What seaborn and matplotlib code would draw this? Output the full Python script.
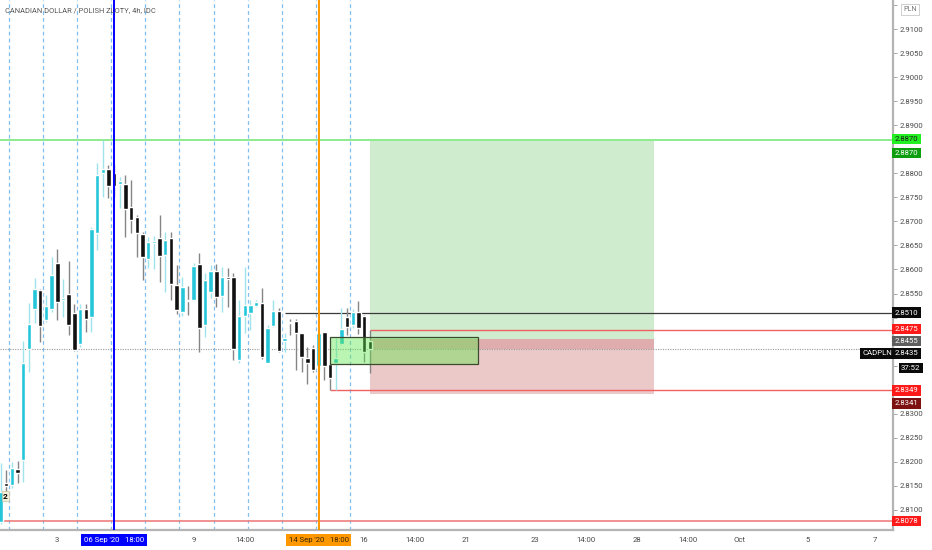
import matplotlib
matplotlib.use("Agg")
import matplotlib.pyplot as plt
from matplotlib.patches import Rectangle
import seaborn as sns
import pandas as pd
import numpy as np

# CADPLN 4h candles (left to right)
opens = [2.8075, 2.8156, 2.8152, 2.8185, 2.8204, 2.8435, 2.8518, 2.8557, 2.8495, 2.8518,
         2.8614, 2.8537, 2.8549, 2.8510, 2.8445, 2.8518, 2.8501, 2.8676, 2.8801, 2.8809,
         2.8801, 2.8778, 2.8778, 2.8730, 2.8709, 2.8674, 2.8622, 2.8655, 2.8666, 2.8630,
         2.8666, 2.8568, 2.8512, 2.8537, 2.8537, 2.8611, 2.8485, 2.8553, 2.8597, 2.8545,
         2.8584, 2.8584, 2.8412, 2.8503, 2.8510, 2.8524, 2.8530, 2.8406, 2.8483, 2.8514,
         2.8451, 2.8491, 2.8493, 2.8468, 2.8416, 2.8437, 2.8399, 2.8470, 2.8404, 2.8406,
         2.8445, 2.8501, 2.8485, 2.8512, 2.8503, 2.8451]
highs = [2.8198, 2.8183, 2.8200, 2.8202, 2.8451, 2.8530, 2.8582, 2.8559, 2.8547, 2.8626,
         2.8643, 2.8580, 2.8618, 2.8528, 2.8528, 2.8528, 2.8688, 2.8821, 2.8870, 2.8817,
         2.8817, 2.8792, 2.8796, 2.8786, 2.8713, 2.8678, 2.8668, 2.8670, 2.8713, 2.8678,
         2.8678, 2.8609, 2.8584, 2.8566, 2.8614, 2.8634, 2.8593, 2.8609, 2.8611, 2.8605,
         2.8603, 2.8593, 2.8537, 2.8605, 2.8537, 2.8537, 2.8562, 2.8485, 2.8537, 2.8520,
         2.8468, 2.8497, 2.8497, 2.8468, 2.8439, 2.8443, 2.8470, 2.8470, 2.8406, 2.8458,
         2.8520, 2.8520, 2.8518, 2.8535, 2.8505, 2.8474]
lows = [2.8071, 2.8135, 2.8146, 2.8156, 2.8158, 2.8387, 2.8489, 2.8449, 2.8491, 2.8512,
        2.8495, 2.8501, 2.8464, 2.8431, 2.8439, 2.8470, 2.8470, 2.8641, 2.8751, 2.8749,
        2.8751, 2.8728, 2.8668, 2.8676, 2.8626, 2.8578, 2.8603, 2.8601, 2.8574, 2.8553,
        2.8537, 2.8507, 2.8503, 2.8505, 2.8535, 2.8428, 2.8460, 2.8541, 2.8522, 2.8512,
        2.8522, 2.8412, 2.8406, 2.8468, 2.8474, 2.8522, 2.8414, 2.8405, 2.8480, 2.8429,
        2.8428, 2.8464, 2.8391, 2.8387, 2.8362, 2.8387, 2.8387, 2.8370, 2.8349, 2.8350,
        2.8443, 2.8464, 2.8478, 2.8466, 2.8408, 2.8385]
closes = [2.8137, 2.8150, 2.8187, 2.8177, 2.8406, 2.8487, 2.8559, 2.8483, 2.8524, 2.8589,
          2.8532, 2.8541, 2.8485, 2.8433, 2.8518, 2.8497, 2.8684, 2.8796, 2.8809, 2.8774,
          2.8774, 2.8784, 2.8726, 2.8703, 2.8676, 2.8626, 2.8657, 2.8659, 2.8628, 2.8661,
          2.8570, 2.8516, 2.8564, 2.8535, 2.8607, 2.8478, 2.8578, 2.8597, 2.8543, 2.8584,
          2.8580, 2.8435, 2.8503, 2.8526, 2.8526, 2.8532, 2.8418, 2.8478, 2.8514, 2.8431,
          2.8458, 2.8489, 2.8468, 2.8418, 2.8406, 2.8391, 2.8468, 2.8399, 2.8374, 2.8416,
          2.8476, 2.8480, 2.8512, 2.8478, 2.8428, 2.8435]

# drawn levels
last_price = 2.8435
entry = 2.8455
target = 2.8870
stop = 2.8341
level_high = 2.8870
level_low = 2.8078
level_resist = 2.8510
level_red_top = 2.8475
level_red_low = 2.8349
box_top = 2.8460
box_bottom = 2.8404

# time axis (bar index -> label)
tick_bars = [10, 34, 43, 64, 73, 82, 94, 103, 112, 121, 130, 142, 154]
tick_labels = ["3", "9", "14:00", "16", "14:00", "21", "23", "14:00", "28", "14:00", "Oct", "5", "7"]
price_ticks = [2.8100, 2.8150, 2.8200, 2.8250, 2.8300, 2.8350, 2.8400, 2.8450, 2.8500,
               2.8550, 2.8600, 2.8650, 2.8700, 2.8750, 2.8800, 2.8850, 2.8900, 2.8950,
               2.9000, 2.9050, 2.9100, 2.9150]
# these tick labels sit under the price tags in the original
hidden_ticks = [2.8350, 2.8400, 2.8450, 2.8500, 2.8850, 2.9150]
session_bars = [1.5, 7.5, 13.5, 19.5, 25.5, 31.5, 37.5, 43.5, 49.5, 55.5, 61.5]

df = pd.DataFrame({"open": opens, "high": highs, "low": lows, "close": closes})
df["bar"] = np.arange(len(df))
df["up"] = df["close"] >= df["open"]
df["body_lo"] = df[["open", "close"]].min(axis=1)
df["body_h"] = (df["close"] - df["open"]).abs().clip(lower=0.0002)

sns.set_style("white")
plt.rcParams["font.family"] = ["Roboto", "DejaVu Sans"]

BULL = "#26c6da"
BULL_WICK = "#9fe3ec"
BEAR = "#111111"
BEAR_WICK = "#858585"
TXT = "#4a4a4a"
FS = 5.6

fig = plt.figure(figsize=(9.32, 5.5), dpi=100)
ax = fig.add_axes([0, 20 / 550, 893 / 932, 530 / 550])
ax.set_xlim(-0.09, 157.1)
ax.set_ylim(2.80584, 2.91603)

# session separators and event lines
ax.vlines(session_bars, 0, 1, transform=ax.get_xaxis_transform(), colors="#80bff0",
          linestyles=(0, (3, 2.5)), linewidth=0.9, zorder=1)
ax.axvline(20, color="#0000ff", lw=1.4, zorder=6)
ax.axvline(56, color="#ff9800", lw=1.4, zorder=6)

# long position tool
ax.add_patch(Rectangle((65, entry), 50, target - entry, facecolor="#cfeccf", edgecolor="none", zorder=1.5))
ax.add_patch(Rectangle((65, stop), 50, entry - stop, facecolor="#ecc9c9", edgecolor="none", zorder=1.5))
ax.add_patch(Rectangle((65, last_price), 50, entry - last_price, facecolor="#dfadad", edgecolor="none", zorder=1.6))

# horizontal levels
ax.axhline(level_high, color="#8eec8e", lw=1.4, zorder=2)
ax.axhline(level_low, color="#f07f7f", lw=1.2, zorder=2)
ax.axhline(last_price, color="#9a9a9a", lw=0.8, ls=(0, (1, 1.2)), zorder=2)
ax.hlines(level_resist, 50, 157.1, color="#3a3a3a", lw=0.9, zorder=2)
ax.hlines(level_red_top, 65, 157.1, color="#f06262", lw=1.0, zorder=2)
ax.hlines(level_red_low, 58, 157.1, color="#f06262", lw=1.0, zorder=2)

# candles
up = df[df["up"]]
dn = df[~df["up"]]
ax.vlines(up["bar"], up["low"], up["high"], colors=BULL_WICK, lw=1.0, zorder=3)
ax.vlines(dn["bar"], dn["low"], dn["high"], colors=BEAR_WICK, lw=1.0, zorder=3)
ax.bar(up["bar"], up["body_h"], bottom=up["body_lo"], width=0.78, color=BULL, zorder=4)
ax.bar(dn["bar"], dn["body_h"], bottom=dn["body_lo"], width=0.78, color=BEAR, zorder=4)

# highlight box over the last candles
ax.add_patch(Rectangle((58, box_bottom), 26, box_top - box_bottom, facecolor="#5fe84a",
                       alpha=0.42, edgecolor="none", zorder=5))
ax.add_patch(Rectangle((58, box_bottom), 26, box_top - box_bottom, facecolor="none",
                       edgecolor="#3c4a30", lw=0.9, zorder=5))

ax.text(0.9, 2.8129, "2", fontsize=6, fontweight="bold", color="black", ha="center", va="center",
        bbox=dict(boxstyle="square,pad=0.15", fc="#f4efd8", ec="#c8c0a0", lw=0.5), zorder=7)

# axes styling
sns.despine(ax=ax, left=True, top=True, right=False, bottom=False)
for s in ("right", "bottom"):
    ax.spines[s].set_color("#b4b4b4")
    ax.spines[s].set_linewidth(1.6)
ax.yaxis.tick_right()
ax.set_yticks(price_ticks)
ax.set_yticklabels(["" if p in hidden_ticks else f"{p:.4f}" for p in price_ticks])
ax.set_xticks(tick_bars)
ax.set_xticklabels(tick_labels)
ax.tick_params(axis="y", length=3, width=0.6, color="#9a9a9a", labelsize=FS, labelcolor=TXT, pad=2)
ax.tick_params(axis="x", length=2, width=0.6, color="#9a9a9a", labelsize=FS, labelcolor=TXT, pad=3)
ax.grid(False)

# price axis labels
ytr = ax.get_yaxis_transform()
price_tags = [
    (2.8871, "2.8870", "#22f022", "#1a1a1a"),
    (2.8842, "2.8870", "#0d9e0d", "white"),
    (2.8510, "2.8510", "#0a0a0a", "white"),
    (2.8476, "2.8475", "#ff1a1a", "white"),
    (2.8451, "2.8455", "#5e5e5e", "white"),
    (2.8426, "2.8435", "#0a0a0a", "white"),
    (2.8349, "2.8349", "#ff1a1a", "white"),
    (2.8322, "2.8341", "#7d1111", "white"),
    (2.8077, "2.8078", "#ff1a1a", "white"),
]
for yv, s, fc, tc in price_tags:
    ax.text(1.002, yv, s, transform=ytr, fontsize=FS, color=tc, ha="left", va="center", zorder=8,
            clip_on=False, bbox=dict(boxstyle="square,pad=0.3", fc=fc, ec="none"))
ax.text(0.999, 2.8426, "CADPLN", transform=ytr, fontsize=FS, color="white", ha="right", va="center",
        zorder=8, clip_on=False, bbox=dict(boxstyle="square,pad=0.3", fc="#0a0a0a", ec="none"))
ax.text(1.009, 2.8395, "37:52", transform=ytr, fontsize=FS, color="white", ha="left", va="center",
        zorder=8, clip_on=False, bbox=dict(boxstyle="square,pad=0.3", fc="#0a0a0a", ec="none"))
fig.text(910 / 932, 1 - 9.5 / 550, "PLN", fontsize=5.2, color="#777777", ha="center", va="center",
         bbox=dict(boxstyle="square,pad=0.25", fc="white", ec="#c8c8c8", lw=0.6))

# time axis event labels
xtr = ax.get_xaxis_transform()
ax.text(20, -0.019, "06 Sep '20   18:00", transform=xtr, fontsize=FS, color="white", ha="center",
        va="center", clip_on=False, zorder=8, bbox=dict(boxstyle="square,pad=0.35", fc="#0000ff", ec="none"))
ax.text(56, -0.019, "14 Sep '20   18:00", transform=xtr, fontsize=FS, color="#3a2500", ha="center",
        va="center", clip_on=False, zorder=8, bbox=dict(boxstyle="square,pad=0.35", fc="#ff9800", ec="none"))

fig.text(5 / 932, 1 - 11 / 550, "CANADIAN DOLLAR / POLISH ZLOTY, 4h, IDC", fontsize=5.4, color="#555555",
         ha="left", va="center")

fig.savefig("out.png", dpi=100)
